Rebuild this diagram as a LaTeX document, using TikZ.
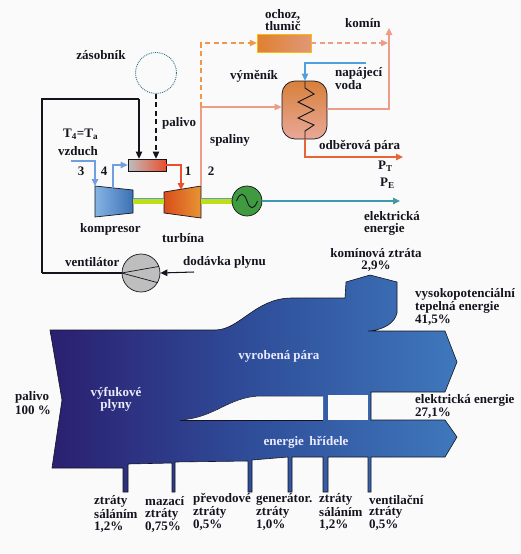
\documentclass[tikz,border=0pt]{standalone}
\usepackage{fontspec}
\setmainfont{Liberation Serif}
\usetikzlibrary{arrows.meta}
\definecolor{paper}{HTML}{FBFAFA}
\definecolor{ink}{HTML}{14141F}
\definecolor{sanL}{HTML}{2B1F70}
\definecolor{sanM}{HTML}{2F4E9A}
\definecolor{sanR}{HTML}{3F78BC}
\definecolor{airblue}{HTML}{6F9FE0}
\definecolor{hot}{HTML}{E8502E}
\definecolor{orng}{HTML}{F09848}
\definecolor{pinkl}{HTML}{EE9C88}
\definecolor{feed}{HTML}{4FA0DC}
\definecolor{elec}{HTML}{3E9AB0}
\definecolor{compL}{HTML}{86B4E4}
\definecolor{compR}{HTML}{3C70B4}
\definecolor{turbL}{HTML}{D84E1C}
\definecolor{turbR}{HTML}{E89434}
\definecolor{vesT}{HTML}{D8803A}
\definecolor{vesB}{HTML}{E8A898}
\definecolor{ochL}{HTML}{E08030}
\definecolor{ochR}{HTML}{E09878}
\definecolor{genG}{HTML}{3F9A40}
\definecolor{fanG}{HTML}{BEBEBE}
\definecolor{tipG}{HTML}{4F9A70}
\tikzset{
  lbl/.style={font=\fontsize{13}{13}\selectfont\bfseries, text=ink, inner sep=0pt, anchor=west},
  lblc/.style={lbl, anchor=center},
  wlbl/.style={lbl, anchor=center, text=white!92!blue},
  tip/.style={-{Triangle[length=7pt,width=6.5pt]}},
  flow/.style={line width=1.05pt, tip},
  dash6/.style={dash pattern=on 5pt off 3.5pt},
  equip/.style={draw=ink, line width=.7pt},
}
\begin{document}
\begin{tikzpicture}[x=1pt,y=-1pt]
\useasboundingbox (0,0) rectangle (521,554);
\fill[paper] (0,0) rectangle (521,554);

% ---------- Sankey ----------
\path[draw=ink, line width=.6pt, left color=sanL, right color=sanR, middle color=sanM]
  (50,330) -- (215,330) .. controls (240,330) and (255,298) .. (292,298)
  -- (345,298) -- (346,282) -- (370,275) -- (397,282) -- (397,313)
  .. controls (395,322) and (385,330) .. (368,331) -- (445,331) -- (457,362) -- (445,392)
  -- (371,392) -- (371,420) -- (445,420) -- (457,437) -- (445,457)
  -- (371,457) -- (371,492) -- (368,492) -- (368,457) -- (328,457) -- (328,492)
  -- (323,492) -- (323,457) -- (292,457) -- (292,492) -- (288,492) -- (288,457)
  -- (252,460) -- (252,492) -- (248,492) -- (248,461) -- (175,462) -- (175,492)
  -- (172,492) -- (172,463) -- (128,464) -- (128,492) -- (123,492) -- (123,468)
  -- (52,468) -- (62,400) -- cycle;
\fill[paper] (180,420) .. controls (215,418) and (228,397) .. (260,396)
  -- (323,396) -- (323,420) -- cycle;
\draw[ink, line width=.5pt] (180,420) .. controls (215,418) and (228,397) .. (260,396) -- (323,396);
\draw[ink, line width=.7pt] (180,420) -- (323,420);
\fill[paper] (328,395) rectangle (368,420);

\node[wlbl] (n1) at (116,393) {výfukové};
\node[wlbl] (n2) at (116,405.5) {plyny};
\node[wlbl] (n3) at (279,356) {vyrobená pára};
\node[wlbl] (n4) at (306,442) {energie\, hřídele};

\node[lblc] (s1) at (376,253) {komínová ztráta};
\node[lblc] (s2) at (376,266) {2,9\%};
\node[lbl] (s3) at (415,294) {vysokopotenciální};
\node[lbl] (s4) at (415,307) {tepelná energie};
\node[lbl] (s5) at (415,320) {41,5\%};
\node[lbl] (s6) at (415,400) {elektrická energie};
\node[lbl] (s7) at (415,413) {27,1\%};
\node[lbl] (s8) at (15,397) {palivo};
\node[lbl] (s9) at (15,410) {100 \%};

\node[lbl] (a1) at (94,501) {ztráty};
\node[lbl] (a2) at (94,514) {sáláním};
\node[lbl] (a3) at (94,527) {1,2\%};
\node[lbl] (b1) at (145,501) {mazací};
\node[lbl] (b2) at (145,514) {ztráty};
\node[lbl] (b3) at (145,527) {0,75\%};
\node[lbl] (c1) at (193,499.5) {převodové};
\node[lbl] (c2) at (193,512.5) {ztráty};
\node[lbl] (c3) at (193,525.5) {0,5\%};
\node[lbl] (d1) at (256,499.5) {generátor.};
\node[lbl] (d2) at (256,512.5) {ztráty};
\node[lbl] (d3) at (256,525.5) {1,0\%};
\node[lbl] (e1) at (319,499.5) {ztráty};
\node[lbl] (e2) at (319,512.5) {sáláním};
\node[lbl] (e3) at (319,525.5) {1,2\%};
\node[lbl] (f1) at (369,499.5) {ventilační};
\node[lbl] (f2) at (369,512.5) {ztráty};
\node[lbl] (f3) at (369,525.5) {0,5\%};

% ---------- diagram labels ----------
\node[lbl] (t1) at (265,15) {ochoz,};
\node[lbl] (t2) at (265,26) {tlumič};
\node[lbl] (t3) at (345,23) {komín};
\node[lblc] (t4) at (101,55) {zásobník};
\node[lbl] (t5) at (162,123) {palivo};
\node[lbl] (t6) at (230,76) {výměník};
\node[lbl] (t7) at (335,73) {napájecí};
\node[lbl] (t8) at (335,85) {voda};
\node[lbl] (t9) at (319,146) {odběrová pára};
\node[lbl] (t10) at (378,166) {P\textsubscript{T}};
\node[lbl] (t11) at (380,183) {P\textsubscript{E}};
\node[lbl] (t12) at (210,140) {spaliny};
\node[lbl] (t13) at (63,134) {T\textsubscript{4}=T\textsubscript{a}};
\node[lbl] (t14) at (58,151) {vzduch};
\node[lblc] (t15) at (81,171) {3};
\node[lblc] (t16) at (104,171) {4};
\node[lblc] (t17) at (188,171) {1};
\node[lblc] (t18) at (211,171) {2};
\node[lbl] (t19) at (80,229) {kompresor};
\node[lbl] (t20) at (162,238) {turbína};
\node[lbl] (t21) at (65,262) {ventilátor};
\node[lbl] (t22) at (183,262) {dodávka plynu};
\node[lbl] (t23) at (364,216) {elektrická};
\node[lbl] (t24) at (364,229) {energie};

% ---------- coordinates ----------
\coordinate (sp) at (201,107);
\coordinate (spTop) at (201,43);
\coordinate (ls1) at (42,99);
\coordinate (ls2) at (139,99);
\coordinate (ls3) at (42,273);
\coordinate (air0) at (71,161);
\coordinate (air1) at (95,161);
\coordinate (compIn) at (95,186);
\coordinate (compOut) at (113,188);
\coordinate (turbIn) at (181,190);
\coordinate (turbOut) at (201,186);
\coordinate (feed0) at (366,63);
\coordinate (feed1) at (305,63);
\coordinate (stack) at (389,109);
\coordinate (stackTop) at (389,28);
\coordinate (bypEnd) at (388,43);
\coordinate (odb) at (305,157);
\coordinate (odbEnd) at (403,157);
\coordinate (elEnd) at (400,201);
\coordinate (gas0) at (194,272);

% ---------- equipment ----------
\path[equip, left color=compL, right color=compR]
  (95,186) -- (133,190) -- (133,213) -- (95,217) -- cycle;
\path[equip, left color=turbL, right color=turbR]
  (164,192) -- (201,186) -- (201,218) -- (164,213) -- cycle;
\fill[yellow!75!green] (133,198.5) rectangle (164,204);
\draw[feed, line width=1pt] (133,198.5) -- (164,198.5);
\fill[yellow!75!green] (201,198.5) rectangle (232,204);
\draw[feed, line width=1pt] (201,198.5) -- (232,198.5);
\node[circle, minimum size=30pt, inner sep=0pt, draw=ink, line width=.7pt, fill=genG] (gen) at (247,201) {};
\draw[ink, line width=.9pt] (236.5,201) .. controls (240,192) and (244,192) .. (247,201) .. controls (250,210) and (254,210) .. (257.5,201);
\node[rectangle, minimum width=38pt, minimum height=12pt, inner sep=0pt, equip, left color=fanG, right color=hot] (comb) at (147,165) {};
\node[circle, minimum size=38pt, inner sep=0pt, equip, fill=fanG] (fan) at (141,273) {};
\draw[ink, line width=.7pt] (fan.west) -- (fan.20);
\draw[ink, line width=.7pt] (fan.west) -- (fan.-30);
\node[rectangle, minimum width=54pt, minimum height=18pt, inner sep=0pt, draw=yellow!50!orange, line width=.4pt, left color=ochL, right color=ochR] (och) at (284,43) {};
\node[rectangle, rounded corners=13pt, minimum width=45pt, minimum height=58pt, inner sep=0pt, equip, top color=vesT, bottom color=vesB] (vym) at (304.5,110) {};
\draw[ink, line width=.9pt] (305,81) -- (305,88) -- (314,94) -- (298,102) -- (314,110) -- (298,118) -- (314,125) -- (305,131) -- (305,139);
\node[circle, minimum size=41pt, inner sep=0pt, draw=elec!70!ink, densely dotted, line width=.9pt] (zas) at (156,73) {};

% ---------- connectors ----------
\draw[ink, line width=1.05pt] (ls3) -- (ls1) -- (ls2);
\draw[ink, line width=1.05pt] (ls3) -- (fan.west);
\draw[ink, flow] (ls2) -- (ls2 |- comb.north);
\draw[ink, flow, dash6] (zas.south) -- (zas.south |- comb.north);
\draw[ink, flow] (gas0) -- (fan.east);
\draw[airblue, flow] (air0) -- (air1) -- (compIn);
\draw[airblue, flow] (compOut) -- (compOut |- comb.west) -- (comb.west);
\draw[hot, flow] (comb.east) -- (turbIn |- comb.east) -- (turbIn);
\draw[pinkl, line width=1.05pt] (turbOut) -- (sp);
\draw[pinkl, flow] (sp) -- (vym.west |- sp);
\draw[orng, flow, dash6] (sp) -- (spTop) -- (och.west);
\draw[pinkl, flow, dash6] (och.east) -- (bypEnd);
\draw[pinkl, flow] (vym.east |- stack) -- (stack) -- (stackTop);
\draw[feed, flow] (feed0) -- (feed1) -- (vym.north -| feed1);
\draw[hot!70!orng, flow] (vym.south -| odb) -- (odb) -- (odbEnd);
\draw[elec, line width=1.05pt, -{Triangle[length=7pt,width=6.5pt,fill=tipG]}] (gen.east) -- (elEnd);
\end{tikzpicture}
\end{document}
